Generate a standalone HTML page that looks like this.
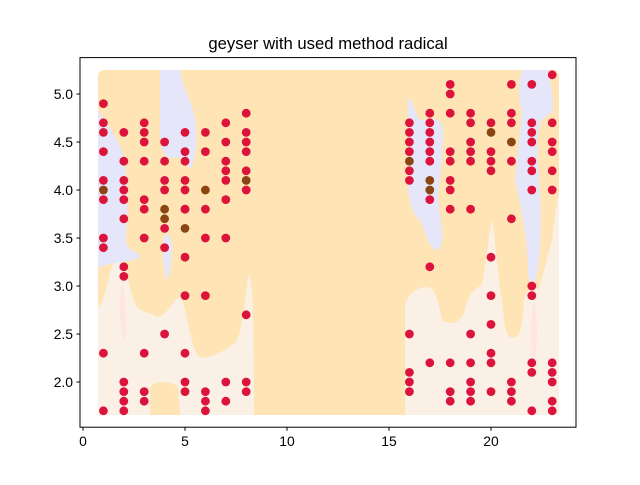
<!DOCTYPE html>
<html><head><meta charset="utf-8"><style>
body{margin:0;background:#fff;}
svg text{font-family:"Liberation Sans",sans-serif;}
</style></head><body>
<svg id="chart" width="640" height="480" xmlns="http://www.w3.org/2000/svg">
<rect width="640" height="480" fill="#fff"/>
<g>
<rect x="98" y="70" width="461" height="345" rx="6" fill="#ffe4b5"/>
<path fill="#faf0e6" d="M98,307 C105,305 110,260 118,257 C126,258 130,300 138,308 C146,314 150,312 156,317 C166,318 172,300 180,297 C186,300 190,350 200,357 C210,360 225,350 236,342 C244,330 246,280 249,275 C252,280 254,300 254,415 L98,415 Z"/>
<path fill="#ffe4b5" d="M150,415 L150,388 C152,380 175,380 178,388 L180,415 Z"/>
<path fill="#faf0e6" d="M405,415 L405,305 C410,290 420,288 425,287 C435,285 438,300 442,320 C450,325 460,325 465,310 C468,295 475,288 482,285 C488,250 490,225 492,220 C494,225 498,280 502,300 C504,320 505,335 510,337 C520,340 522,330 524,300 C528,285 535,285 538,290 C542,280 548,255 552,240 C555,215 557,200 559,193 L559,415 Z"/>
<path fill="#e6e6fa" d="M98,110 C105,120 115,135 122,150 C128,175 128,200 126,240 C128,255 140,250 140,258 C130,262 110,262 98,268 Z"/>
<path fill="#e6e6fa" d="M160,70 L180,70 C183,90 192,100 195,120 C198,140 196,160 190,170 C185,160 180,155 172,158 C165,160 160,150 160,130 Z"/>
<path fill="#e6e6fa" d="M163,240 C166,232 170,232 172,245 C172,260 170,275 167,280 C164,272 162,255 163,240 Z"/>
<path fill="#e6e6fa" d="M408,100 C412,95 415,115 420,120 C428,120 438,115 442,125 C445,140 440,180 438,195 C438,215 448,240 438,250 C430,252 425,230 420,220 C412,215 410,200 408,190 Z"/>
<path fill="#e6e6fa" d="M522,70 L548,70 C552,90 554,105 552,112 L542,120 C535,130 538,170 540,190 C542,230 540,260 536,280 C532,285 527,280 528,270 C528,240 520,200 515,180 C518,150 520,130 522,110 C518,100 518,85 522,70 Z"/>
<path fill="#ffe4e1" d="M122,285 C126,295 128,330 124,340 C120,330 118,300 122,285 Z"/>
<path fill="#ffe4e1" d="M534,300 C538,320 538,350 534,360 C530,350 530,320 534,300 Z"/>
</g>
<g id="plot"></g>
<rect x="80" y="57.6" width="496" height="369.6" fill="none" stroke="#000" stroke-width="1"/>
<g id="xaxis"></g>
<g id="yaxis"></g>
<text x="328" y="49" text-anchor="middle" font-size="16.7" fill="#000">geyser with used method radical</text>
</svg>
<script>
const pointX = [1,1,1,1,1,1,1,1,1,1,1, 2,2,2,2,2,2,2,2,2,2,2,2, 3,3,3,3,3,3,3,3,3,3, 4,4,4,4,4,4,4,4,4, 5,5,5,5,5,5,5,5,5,5,5,5,5, 6,6,6,6,6,6,6,6,6, 7,7,7,7,7,7,7,7,7, 8,8,8,8,8,8,8,8,8,8,
16,16,16,16,16,16,16,16,16,16,16, 17,17,17,17,17,17,17,17,17,17,17, 18,18,18,18,18,18,18,18,18,18,18, 19,19,19,19,19,19,19,19,19,19,19, 20,20,20,20,20,20,20,20,20,20,20, 21,21,21,21,21,21,21,21,21, 22,22,22,22,22,22,22,22,22,22,22,22, 23,23,23,23,23,23,23,23,23,23,23];
const pointY = [4.9,4.7,4.6,4.4,4.1,4.0,3.9,3.5,3.4,2.3,1.7, 4.6,4.3,4.1,4.0,3.9,3.7,3.2,3.1,2.0,1.9,1.8,1.7, 4.7,4.6,4.5,4.3,3.9,3.8,3.5,2.3,1.9,1.8, 4.5,4.3,4.1,4.0,3.8,3.7,3.6,3.4,2.5, 4.6,4.4,4.3,4.1,4.0,3.8,3.6,3.3,2.9,2.3,2.0,1.9,3.8, 4.6,4.4,4.0,3.8,3.5,2.9,1.9,1.8,1.7, 4.7,4.5,4.3,4.2,4.1,3.9,3.5,2.0,1.8, 4.8,4.6,4.5,4.4,4.2,4.1,4.0,2.7,2.0,1.9,
4.7,4.6,4.5,4.4,4.3,4.2,4.1,2.5,2.1,2.0,1.9, 4.8,4.7,4.6,4.5,4.4,4.3,4.1,4.0,3.9,3.2,2.2, 5.1,5.0,4.8,4.4,4.3,4.1,4.0,3.8,2.2,1.9,1.8, 4.8,4.7,4.5,4.4,4.3,3.8,2.5,2.2,2.0,1.9,1.8, 4.7,4.6,4.4,4.3,4.2,3.3,2.9,2.6,2.3,2.2,1.9, 5.1,4.8,4.7,4.5,4.3,3.7,2.0,1.9,1.8, 5.1,4.7,4.6,4.5,4.3,4.2,4.0,3.0,2.9,2.2,2.1,1.7, 5.2,4.7,4.5,4.4,4.2,4.0,2.2,2.1,2.0,1.8,1.7];
const brownPoints = ["1,4","4,3.8","4,3.7","5,3.6","6,4","8,4.1","16,4.3","17,4.1","17,4","20,4.6","21,4.5"];
const xTicks = [0,5,10,15,20];
const yTicks = [2.0,2.5,3.0,3.5,4.0,4.5,5.0];

const NS = "http://www.w3.org/2000/svg";
function sx(v){ return 83 + v*20.4; }
function sy(v){ return 94 + (5 - v)*96; }
const plot = document.getElementById('plot');
const ordered = [];
for (let i=0;i<pointX.length;i++){
  const b = brownPoints.indexOf(pointX[i]+","+pointY[i]) >= 0;
  ordered.push({x:pointX[i], y:pointY[i], b:b});
}
ordered.forEach(p=>{
  const c = document.createElementNS(NS,'circle');
  c.setAttribute('cx', sx(p.x));
  c.setAttribute('cy', sy(p.y));
  c.setAttribute('r', 4.4);
  c.setAttribute('fill', p.b ? '#8b4513' : '#dc143c');
  
  
  plot.appendChild(c);
});
const xa = document.getElementById('xaxis');
xTicks.forEach(t=>{
  const l = document.createElementNS(NS,'line');
  l.setAttribute('x1', sx(t)); l.setAttribute('x2', sx(t));
  l.setAttribute('y1', 427.2); l.setAttribute('y2', 430.7);
  l.setAttribute('stroke', '#000');
  
  
  xa.appendChild(l);
  const tx = document.createElementNS(NS,'text');
  tx.setAttribute('x', sx(t)); tx.setAttribute('y', 446);
  tx.setAttribute('text-anchor', 'middle'); tx.setAttribute('font-size', '13.9');
  tx.textContent = t;
  
  
  xa.appendChild(tx);
});
const ya = document.getElementById('yaxis');
yTicks.forEach(t=>{
  const l = document.createElementNS(NS,'line');
  l.setAttribute('x1', 76.5); l.setAttribute('x2', 80);
  l.setAttribute('y1', sy(t)); l.setAttribute('y2', sy(t));
  l.setAttribute('stroke', '#000');
  
  
  ya.appendChild(l);
  const tx = document.createElementNS(NS,'text');
  tx.setAttribute('x', 73); tx.setAttribute('y', sy(t)+5);
  tx.setAttribute('text-anchor', 'end'); tx.setAttribute('font-size', '13.9');
  tx.textContent = t.toFixed(1);
  
  
  ya.appendChild(tx);
});
</script>
</body></html>
